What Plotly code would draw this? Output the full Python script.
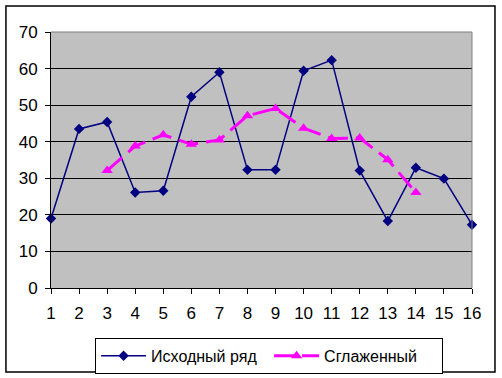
import plotly.graph_objects as go

x_vals = list(range(1, 17))
original = [19.0, 43.5, 45.4, 26.1, 26.6, 52.3, 59.0, 32.3, 32.3, 59.4, 62.3, 32.1, 18.3, 32.9, 29.9, 17.3]
x_smooth = list(range(3, 15))
smoothed = [32.1, 38.8, 41.9, 39.3, 40.5, 47.1, 49.1, 43.7, 40.9, 41.0, 35.1, 26.1]
x_ticks = [str(i) for i in x_vals]

fig = go.Figure()
fig.add_trace(go.Scatter(
    x=x_vals, y=original, name="Исходный ряд", mode="lines+markers",
    line=dict(color="#000080", width=1.5),
    marker=dict(symbol="diamond", size=8, color="#000080"),
    cliponaxis=False,
))
fig.add_trace(go.Scatter(
    x=x_smooth, y=smoothed, name="Сглаженный", mode="lines+markers",
    line=dict(color="#FF00FF", width=3, dash="20px,8px"),
    marker=dict(symbol="triangle-up", size=10, color="#FF00FF"),
    cliponaxis=False,
))

font = dict(family="Liberation Sans, Arial, sans-serif", size=17, color="black")

fig.update_layout(
    width=502, height=378,
    margin=dict(l=51, r=30, t=32, b=90, autoexpand=False),
    paper_bgcolor="white",
    plot_bgcolor="#C0C0C0",
    font=font,
    showlegend=True,
    legend=dict(
        orientation="h", x=0.518, xanchor="center", y=-0.195, yanchor="top",
        bordercolor="black", borderwidth=1, bgcolor="white",
        font=dict(family="Liberation Sans, Arial, sans-serif", size=16, color="black"),
        itemwidth=45, tracegroupgap=0,
        entrywidth=113, entrywidthmode="pixels",
    ),
    xaxis=dict(
        range=[1, 16], tickvals=x_vals, ticktext=x_ticks,
        showgrid=False, zeroline=False,
        showline=True, linecolor="black", linewidth=1,
        ticks="outside", ticklen=5, tickcolor="black",
        ticklabelstandoff=5,
        tickfont=font, fixedrange=True, automargin=False,
    ),
    yaxis=dict(
        range=[0, 70], dtick=10, tick0=0,
        showgrid=True, gridcolor="black", gridwidth=1,
        zeroline=False,
        showline=True, linecolor="black", linewidth=1,
        ticks="outside", ticklen=5, tickcolor="black",
        ticklabelstandoff=4,
        tickfont=font, fixedrange=True, automargin=False,
    ),
    shapes=[
        dict(type="line", xref="paper", yref="paper", x0=0, x1=1, y0=1, y1=1,
             line=dict(color="#808080", width=1), layer="above"),
        dict(type="line", xref="paper", yref="paper", x0=1, x1=1, y0=0, y1=1,
             line=dict(color="#808080", width=1), layer="above"),
        dict(type="rect", xref="paper", yref="paper",
             x0=-0.107, x1=1.0546, y0=-0.328, y1=1.1016,
             line=dict(color="black", width=1.5), layer="below"),
    ],
)

fig.write_html(
    "out.html",
    config={"displayModeBar": False},
    post_script="document.body.style.margin='0';document.body.style.overflow='hidden';",
)
